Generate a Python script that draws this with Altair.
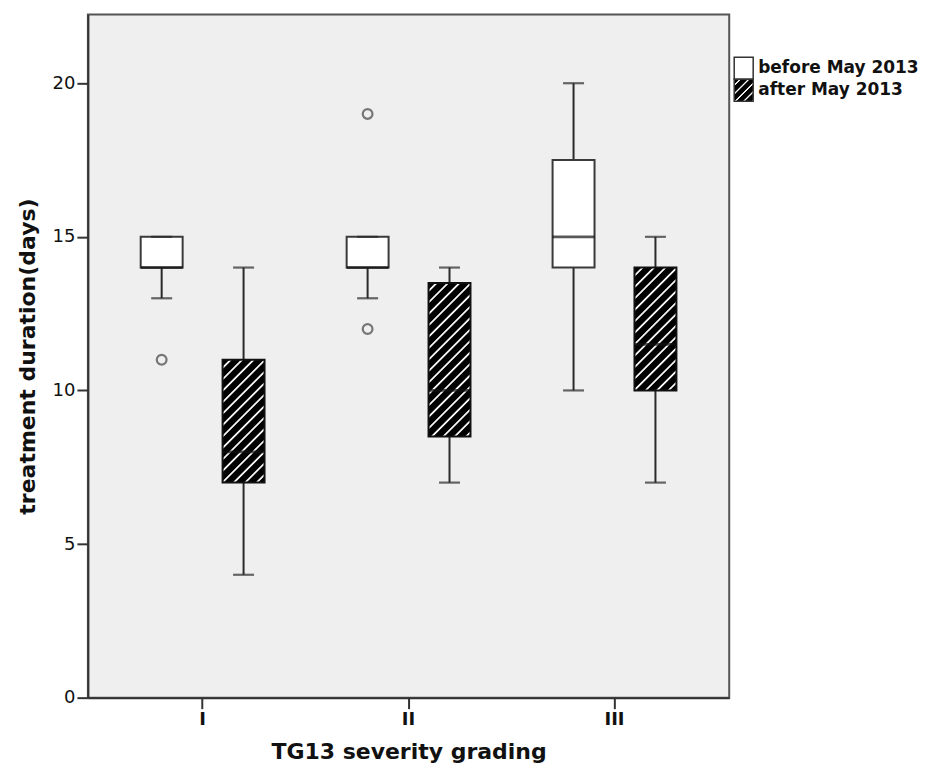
import math
import altair as alt
import pandas as pd

# ---- data ----
grades = ["I", "II", "III"]
periods = ["before May 2013", "after May 2013"]

before_low = [13, 13, 10]
before_q1 = [14, 14, 14]
before_med = [14, 14, 15]
before_q3 = [15, 15, 17.5]
before_high = [15, 15, 20]

after_low = [4, 7, 7]
after_q1 = [7, 8.5, 10]
after_med = [8, 10, 11.5]
after_q3 = [11, 13.5, 14]
after_high = [14, 14, 15]

outlier_grade = ["I", "II", "II"]
outlier_period = ["before May 2013", "before May 2013", "before May 2013"]
outlier_value = [11, 19, 12]

# ---- tables ----
rows = []
for i, g in enumerate(grades):
    rows.append(dict(grade=g, period=periods[0], low=before_low[i], q1=before_q1[i],
                     med=before_med[i], q3=before_q3[i], high=before_high[i]))
    rows.append(dict(grade=g, period=periods[1], low=after_low[i], q1=after_q1[i],
                     med=after_med[i], q3=after_q3[i], high=after_high[i]))
stats = pd.DataFrame(rows)
outliers = pd.DataFrame(dict(grade=outlier_grade, period=outlier_period, value=outlier_value))

W, H = 642, 684
YMAX = 22.24
PX = H / YMAX
BOX_W = 42
FONT = "DejaVu Sans"


def hatch(w, h, period=8.1):
    r = w / h
    k = (r + 1) / (r * r + 1)
    n = (w + h) / (math.sqrt(2) * period)
    pattern = [(0.0, "#000000"), (0.55, "#000000"), (0.66, "#f6f6f6"),
               (0.77, "#f6f6f6"), (0.88, "#000000")]
    stops = []
    i = 0
    done = False
    while not done:
        for f, c in pattern:
            off = (i + f) / n
            if off > 1:
                done = True
                break
            stops.append({"offset": round(off, 5), "color": c})
        i += 1
    return {"gradient": "linear", "x1": 0, "y1": 0, "x2": round(k * r, 5),
            "y2": round(k, 5), "stops": stops}


x_enc = alt.X("grade:N", sort=grades,
              scale=alt.Scale(domain=grades, paddingInner=0, paddingOuter=0.057),
              axis=alt.Axis(title="TG13 severity grading", labelAngle=0))
xo_enc = alt.XOffset("period:N", sort=periods,
                     scale=alt.Scale(domain=periods, paddingInner=0.4878, paddingOuter=0.5012))
yscale = alt.Scale(domain=[0, YMAX], nice=False, zero=True)
y_axis = alt.Axis(title="treatment duration(days)", values=[0, 5, 10, 15, 20])

base = alt.Chart(stats).encode(x=x_enc, xOffset=xo_enc)

whisk = base.mark_rule(color="#2a2a2a", strokeWidth=2).encode(
    y=alt.Y("low:Q", scale=yscale, axis=y_axis), y2="high:Q")
caps_low = base.mark_tick(color="#2a2a2a", size=21, thickness=2.2, orient="horizontal").encode(
    y=alt.Y("low:Q", scale=yscale))
caps_high = base.mark_tick(color="#2a2a2a", size=21, thickness=2.2, orient="horizontal").encode(
    y=alt.Y("high:Q", scale=yscale))

white_box = base.transform_filter(alt.datum.period == periods[0]).mark_bar(
    fill="#ffffff", stroke="#3a3a3a", strokeWidth=2).encode(
    y=alt.Y("q1:Q", scale=yscale), y2="q3:Q")

hatched = []
for i, g in enumerate(grades):
    h_px = (after_q3[i] - after_q1[i]) * PX
    hatched.append(
        base.transform_filter((alt.datum.period == periods[1]) & (alt.datum.grade == g))
        .mark_bar(fill=hatch(BOX_W, h_px), stroke="#111111", strokeWidth=2)
        .encode(y=alt.Y("q1:Q", scale=yscale), y2="q3:Q")
    )

medians = base.mark_tick(color="#111111", size=BOX_W, thickness=2.8, orient="horizontal").encode(
    y=alt.Y("med:Q", scale=yscale))

pts = alt.Chart(outliers).mark_point(shape="circle", filled=False, size=95,
                                     strokeWidth=2.2, color="#444444").encode(
    x=x_enc, xOffset=xo_enc, y=alt.Y("value:Q", scale=yscale))

main = alt.layer(whisk, white_box, *hatched, medians, caps_low, caps_high, pts).properties(
    width=W, height=H,
    view=alt.ViewBackground(fill="#efefef", stroke="#555555", strokeWidth=2))

# ---- legend ----
leg_df = pd.DataFrame(dict(label=periods))
ly = alt.Y("label:N", sort=periods, axis=None,
           scale=alt.Scale(domain=periods, paddingInner=0, paddingOuter=0, range=[43, 87]))
lbase = alt.Chart(leg_df).encode(y=ly)
leg_white = lbase.transform_filter(alt.datum.label == periods[0]).mark_rect(
    fill="#ffffff", stroke="#333333", strokeWidth=1.5).encode(x=alt.value(0), x2=alt.value(19))
leg_hatch = lbase.transform_filter(alt.datum.label == periods[1]).mark_rect(
    fill=hatch(19, 22, period=6), stroke="#333333", strokeWidth=1.5).encode(
    x=alt.value(0), x2=alt.value(19))
leg_text = lbase.mark_text(align="left", baseline="middle", font=FONT, fontSize=17,
                           fontWeight="bold", color="#111111").encode(
    x=alt.value(24), text="label:N")
legend = alt.layer(leg_white, leg_hatch, leg_text).properties(width=190, height=130)

chart = alt.hconcat(main, legend, spacing=3).properties(
    padding={"left": 15, "top": 13, "right": 5, "bottom": 5},
    background="#ffffff",
).configure_view(strokeWidth=0).configure_axis(
    grid=False, domainColor="#333333", domainWidth=2, tickColor="#333333", tickWidth=2,
    tickSize=11, labelFont=FONT, labelFontSize=18, labelColor="#111111", labelPadding=2,
    titleFont=FONT, titleFontSize=22, titleFontWeight="bold", titleColor="#111111",
).configure_axisY(titlePadding=13).configure_axisX(titlePadding=13, labelFontWeight="bold")

chart.save("out.html", embed_options={"renderer": "svg", "actions": False})
